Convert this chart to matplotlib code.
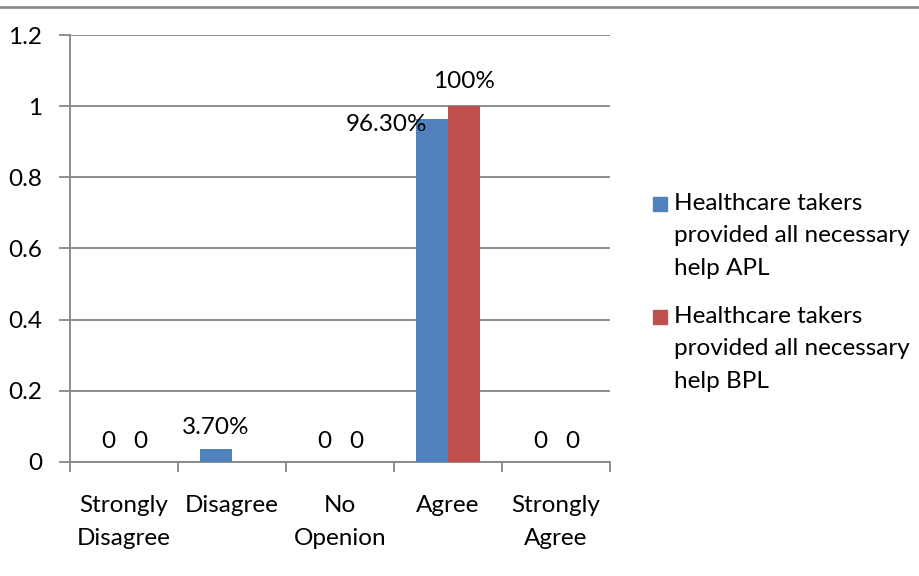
import matplotlib.pyplot as plt
from matplotlib.patches import Rectangle
from matplotlib.lines import Line2D
import numpy as np

plt.rcParams['font.family'] = ['Lato', 'DejaVu Sans']

categories = ['Strongly\nDisagree', 'Disagree', 'No\nOpenion', 'Agree', 'Strongly\nAgree']
apl = [0, 0.037, 0, 0.963, 0]
bpl = [0, 0, 0, 1.0, 0]
apl_labels = ['0', '3.70%', '0', '96.30%', '0']
bpl_labels = ['0', '', '0', '100%', '0']
series_names = ['Healthcare takers\nprovided all necessary\nhelp APL',
                'Healthcare takers\nprovided all necessary\nhelp BPL']
colors = ['#4f81bd', '#c0504d']
grid_color = '#868686'

fig = plt.figure(figsize=(9.2, 5.76), dpi=100)
ax = fig.add_axes([70 / 920, 1 - 462 / 576, 540 / 920, 427 / 576])

x = np.arange(len(categories))
w = 0.295
ax.bar(x - w / 2, apl, w, color=colors[0], zorder=3)
ax.bar(x + w / 2, bpl, w, color=colors[1], zorder=3)

# data labels (the 96.30% one sits to the left like in the original)
fs = 17.5
for i in range(len(categories)):
    if apl_labels[i]:
        if apl_labels[i] == '96.30%':
            ax.annotate(apl_labels[i], (x[i] - w / 2, apl[i]), xytext=(-46, -5),
                        textcoords='offset pixels', ha='center', va='center', fontsize=fs, zorder=5)
        else:
            ax.annotate(apl_labels[i], (x[i] - w / 2, apl[i]), xytext=(0, 21),
                        textcoords='offset pixels', ha='center', va='center', fontsize=fs)
    if bpl_labels[i]:
        dy = 25 if bpl[i] > 0 else 21
        ax.annotate(bpl_labels[i], (x[i] + w / 2, bpl[i]), xytext=(0, dy),
                    textcoords='offset pixels', ha='center', va='center', fontsize=fs)

ax.set_xlim(-0.5, len(categories) - 0.5)
ax.set_ylim(0, 1.2)
ax.set_yticks(np.arange(0, 1.21, 0.2))
ax.set_yticklabels(['{:g}'.format(round(v, 1)) for v in np.arange(0, 1.21, 0.2)], fontsize=fs)
ax.yaxis.grid(True, color=grid_color, linewidth=1.3, zorder=0)
ax.set_xticks(x)
ax.set_xticklabels(categories, fontsize=fs, linespacing=1.7)
ax.set_xticks(np.arange(-0.5, len(categories)), minor=True)
ax.tick_params(axis='x', which='major', length=0, pad=24)
ax.tick_params(axis='x', which='minor', length=7, color=grid_color, width=1.3)
ax.tick_params(axis='y', length=8, color=grid_color, width=1.3, pad=12)

for s in ['top', 'right']:
    ax.spines[s].set_visible(False)
for s in ['left', 'bottom']:
    ax.spines[s].set_color(grid_color)
    ax.spines[s].set_linewidth(1.3)

# legend
for k, name in enumerate(series_names):
    ytop = [197, 310][k]
    fig.patches.append(Rectangle((653 / 920, 1 - (ytop + 14) / 576), 14 / 920, 14 / 576,
                                 transform=fig.transFigure, color=colors[k]))
    fig.text(674 / 920, 1 - (ytop - 4) / 576, name, fontsize=fs, va='top', ha='left',
             linespacing=1.67)

# top border line
fig.add_artist(Line2D([0, 1], [1 - 7 / 576, 1 - 7 / 576], transform=fig.transFigure,
                      color='#8c8c8c', linewidth=2))

fig.savefig('out.png', dpi=100)
